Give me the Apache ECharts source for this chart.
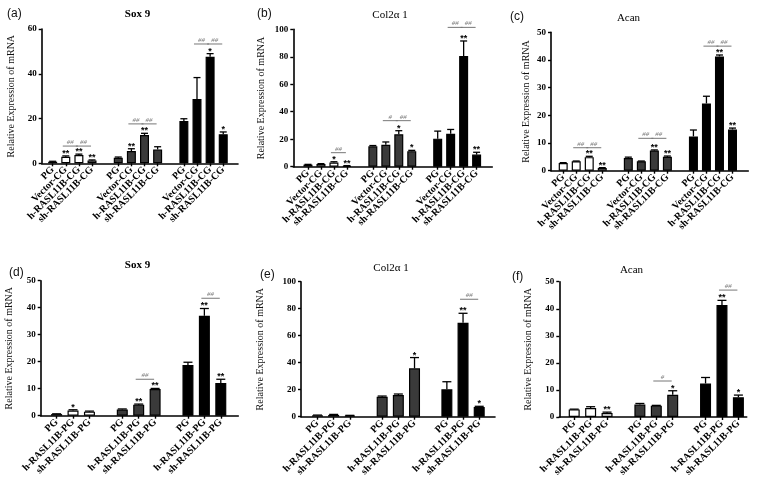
<!DOCTYPE html>
<html><head><meta charset="utf-8">
<script src="https://cdn.jsdelivr.net/npm/echarts@6/dist/echarts.min.js"></script>
<style>html,body{margin:0;padding:0;background:#fff}#c{width:760px;height:481px}</style>
</head><body><div id="c"></div>
<script>
// ---------- data ----------
const labelsCG = ['PG', 'Vector-CG', 'h-RASL11B-CG', 'sh-RASL11B-CG'];
const labelsPG = ['PG', 'h-RASL11B-PG', 'sh-RASL11B-PG'];
const panelTitles = ['Sox 9', 'Col2\u03b1 1', 'Acan', 'Sox 9', 'Col2\u03b1 1', 'Acan'];
const panelTags = ['(a)', '(b)', '(c)', '(d)', '(e)', '(f)'];
const yName = 'Relative Expression of mRNA';
const yMaxes = [60, 100, 50, 50, 100, 50];
const yIntervals = [20, 20, 10, 10, 20, 10];

const sox9CG = [0.7, 2.9, 3.7, 1.2, 2.5, 5.5, 12.6, 6.2, 18.9, 28.7, 47.6, 13.0];
const sox9CGErr = [0.2, 0.4, 0.4, 0.3, 0.3, 1.0, 0.8, 1.2, 1.0, 9.6, 1.4, 1.0];
const sox9CGStars = ['', '**', '**', '**', '', '**', '**', '', '', '', '*', '*'];
const sox9CGSig = [[1, 2, 7.7, '##'], [2, 3, 7.7, '##'], [5, 6, 17.6, '##'], [6, 7, 17.6, '##'], [9, 10, 53.3, '##'], [10, 11, 53.3, '##']];

const col2CG = [1.5, 1.9, 3.0, 0.6, 14.8, 16.0, 23.6, 11.3, 20.4, 24.0, 80.5, 8.8];
const col2CGErr = [0.2, 0.3, 0.6, 0.2, 0.6, 2.0, 2.6, 0.6, 5.5, 3.1, 11.0, 1.7];
const col2CGStars = ['', '', '*', '**', '', '', '*', '*', '', '', '**', '**'];
const col2CGSig = [[2, 3, 10.2, '##'], [5, 6, 33.5, '#'], [6, 7, 33.5, '##'], [9, 10, 101.4, '##'], [10, 11, 101.4, '##']];

const acanCG = [2.8, 3.4, 4.9, 1.0, 4.6, 3.4, 7.3, 5.0, 12.4, 24.3, 41.3, 14.9];
const acanCGErr = [0.1, 0.1, 0.3, 0.1, 0.3, 0.1, 0.2, 0.3, 2.3, 2.6, 0.5, 0.5];
const acanCGStars = ['', '', '**', '**', '', '', '**', '**', '', '', '**', '**'];
const acanCGSig = [[1, 2, 8.3, '##'], [2, 3, 8.3, '##'], [5, 6, 11.7, '##'], [6, 7, 11.7, '##'], [9, 10, 45.0, '##'], [10, 11, 45.0, '##']];

const sox9PG = [0.6, 1.9, 1.5, 2.3, 4.1, 9.9, 18.8, 37.0, 12.1];
const sox9PGErr = [0.1, 0.3, 0.2, 0.2, 0.2, 0.2, 1.0, 2.7, 1.4];
const sox9PGStars = ['', '*', '', '', '**', '**', '', '**', '**'];
const sox9PGSig = [[4, 5, 13.5, '##'], [7, 8, 43.5, '##']];

const col2PG = [1.0, 1.3, 0.8, 14.8, 16.0, 35.8, 20.3, 69.6, 7.1];
const col2PGErr = [0.2, 0.4, 0.2, 0.5, 0.8, 8.0, 5.6, 7.0, 0.6];
const col2PGStars = ['', '', '', '', '', '*', '', '**', '*'];
const col2PGSig = [[7, 8, 87.0, '##']];

const acanPG = [2.8, 3.3, 1.5, 4.6, 4.2, 8.2, 12.4, 41.4, 7.3];
const acanPGErr = [0.1, 0.5, 0.3, 0.4, 0.1, 1.5, 2.2, 1.7, 0.8];
const acanPGStars = ['', '', '**', '', '', '*', '', '**', '*'];
const acanPGSig = [[4, 5, 13.3, '#'], [7, 8, 46.9, '##']];

// ---------- layout / style ----------
const groupColors = ['#ffffff', '#3a3a3a', '#000000'];
const layout = [
  { frame: [41.7, 29, 196.3, 134.3], bars: [46.1, 183.7], gap: 25, tag: [2, 3], title: [132.5, 4], bold: true, bw: 9, cap: 3.5 },
  { frame: [293.3, 29.3, 199, 137.4], bars: [301.5, 181.6], gap: 27, tag: [252, 3], title: [385, 5], bold: false, bw: 9, cap: 3.5 },
  { frame: [551, 32.3, 197.3, 138.4], bars: [556.7, 182.3], gap: 20, tag: [505, 6], title: [623.5, 8], bold: false, bw: 9, cap: 3.5 },
  { frame: [40.7, 280.7, 197.6, 135], bars: [48.4, 180.6], gap: 26.5, tag: [4, 262], title: [132.5, 255], bold: true, bw: 11, cap: 4.5 },
  { frame: [301, 281.7, 194, 135], bars: [309.4, 177.9], gap: 36, tag: [255, 264], title: [386, 258], bold: false, bw: 11, cap: 4.5 },
  { frame: [559.3, 281.7, 187.4, 135.3], bars: [566.0, 180.6], gap: 26, tag: [507, 266], title: [626.5, 260], bold: false, bw: 11, cap: 4.5 }
];

const panelData = [
  [labelsCG, sox9CG, sox9CGErr, sox9CGStars, sox9CGSig],
  [labelsCG, col2CG, col2CGErr, col2CGStars, col2CGSig],
  [labelsCG, acanCG, acanCGErr, acanCGStars, acanCGSig],
  [labelsPG, sox9PG, sox9PGErr, sox9PGStars, sox9PGSig],
  [labelsPG, col2PG, col2PGErr, col2PGStars, col2PGSig],
  [labelsPG, acanPG, acanPGErr, acanPGStars, acanPGSig]
];

const serif = '"Liberation Serif", "Times New Roman", serif';
const option = { animation: false, backgroundColor: '#fff', title: [], grid: [], xAxis: [], yAxis: [], series: [] };

panelData.forEach((pd, p) => {
  const [labels, vals, errs, stars, sig] = pd;
  const L = layout[p];
  const n = labels.length;
  const catOf = b => b + Math.floor(b / n);
  const cats = [];
  for (let g = 0; g < 3; g++) {
    labels.forEach(l => cats.push(l));
    if (g < 2) cats.push(' '.repeat(g + 1));
  }
  const fg = 2 * p, bg = 2 * p + 1;
  option.grid.push({ left: L.frame[0], top: L.frame[1], width: L.frame[2], height: L.frame[3] });
  option.grid.push({ left: L.bars[0], top: L.frame[1], width: L.bars[1], height: L.frame[3] });

  option.title.push({ text: panelTitles[p], left: L.title[0], top: L.title[1], textAlign: 'center',
    textStyle: { fontFamily: serif, fontSize: 11, fontWeight: L.bold ? 'bold' : 'normal', color: '#000' } });
  option.title.push({ text: panelTags[p], left: L.tag[0], top: L.tag[1],
    textStyle: { fontFamily: '"Liberation Sans", Arial, sans-serif', fontSize: 12, fontWeight: 'normal', color: '#111' } });

  option.xAxis.push({ type: 'value', gridIndex: fg, min: 0, max: 1,
    axisLine: { show: true, onZero: false, lineStyle: { color: '#000', width: 1.6 } },
    axisTick: { show: false }, axisLabel: { show: false }, splitLine: { show: false } });
  option.yAxis.push({ type: 'value', gridIndex: fg, min: 0, max: yMaxes[p], interval: yIntervals[p],
    name: yName, nameLocation: 'middle', nameGap: L.gap,
    nameTextStyle: { fontFamily: serif, fontSize: 10, color: '#111' },
    axisLine: { show: true, onZero: false, lineStyle: { color: '#000', width: 1.6 } },
    axisTick: { show: true, length: 3, lineStyle: { color: '#000', width: 1.4 } },
    axisLabel: { margin: 5, fontFamily: serif, fontSize: 9, fontWeight: 'bold', color: '#000' },
    splitLine: { show: false } });

  option.xAxis.push({ type: 'category', gridIndex: bg, data: cats, boundaryGap: true,
    axisLine: { show: false },
    axisTick: { show: true, alignWithLabel: true, length: 3, interval: (i, v) => v.trim() !== '', lineStyle: { color: '#000', width: 1.4 } },
    axisLabel: { interval: 0, rotate: 45, margin: 5, fontFamily: serif, fontSize: 10, fontWeight: 'bold', color: '#000' },
    splitLine: { show: false } });
  option.yAxis.push({ type: 'value', gridIndex: bg, min: 0, max: yMaxes[p], show: false, splitLine: { show: false } });

  const barData = cats.map(() => '-');
  const errData = [];
  vals.forEach((v, b) => {
    const g = Math.floor(b / n);
    barData[catOf(b)] = { value: v, itemStyle: { color: groupColors[g] } };
    errData.push([catOf(b), v, errs[b]]);
  });

  option.series.push({ type: 'bar', xAxisIndex: bg, yAxisIndex: bg, data: barData, barWidth: L.bw,
    itemStyle: { borderColor: '#000', borderWidth: 1.2 }, z: 2 });

  option.series.push({ type: 'custom', xAxisIndex: bg, yAxisIndex: bg, data: errData, clip: false, z: 3,
    renderItem: (params, api) => {
      const x = api.value(0), m = api.value(1), e = api.value(2);
      const p0 = api.coord([x, m]), p1 = api.coord([x, m + e]);
      const ch = [
        { type: 'line', shape: { x1: p0[0], y1: p0[1], x2: p1[0], y2: p1[1] }, style: { stroke: '#000', lineWidth: 1.3 } },
        { type: 'line', shape: { x1: p1[0] - L.cap, y1: p1[1], x2: p1[0] + L.cap, y2: p1[1] }, style: { stroke: '#000', lineWidth: 1.3 } }
      ];
      const s = stars[params.dataIndex];
      if (s) ch.push({ type: 'text', style: { text: s, x: p1[0], y: p1[1] - 2.5, align: 'center', verticalAlign: 'middle',
        font: 'bold 9px "Liberation Sans", Arial, sans-serif', fill: '#000' } });
      return { type: 'group', children: ch };
    } });

  const sigData = sig.map(s => [catOf(s[0]), catOf(s[1]), s[2]]);
  option.series.push({ type: 'custom', xAxisIndex: bg, yAxisIndex: bg, data: sigData, clip: false, z: 4,
    renderItem: (params, api) => {
      const a = api.coord([api.value(0), api.value(2)]);
      const b = api.coord([api.value(1), api.value(2)]);
      const x1 = a[0] - 3, x2 = b[0] - 1;
      return { type: 'group', children: [
        { type: 'line', shape: { x1: x1, y1: a[1], x2: x2, y2: a[1] }, style: { stroke: '#777', lineWidth: 1 } },
        { type: 'text', style: { text: sig[params.dataIndex][3], x: (x1 + x2) / 2, y: a[1] - 4, align: 'center', verticalAlign: 'middle',
          font: 'italic 7px "Liberation Serif", serif', fill: '#777' } }
      ] };
    } });
});

const chart = echarts.init(document.getElementById('c'), null, { renderer: 'canvas' });
chart.setOption(option);
</script></body></html>
